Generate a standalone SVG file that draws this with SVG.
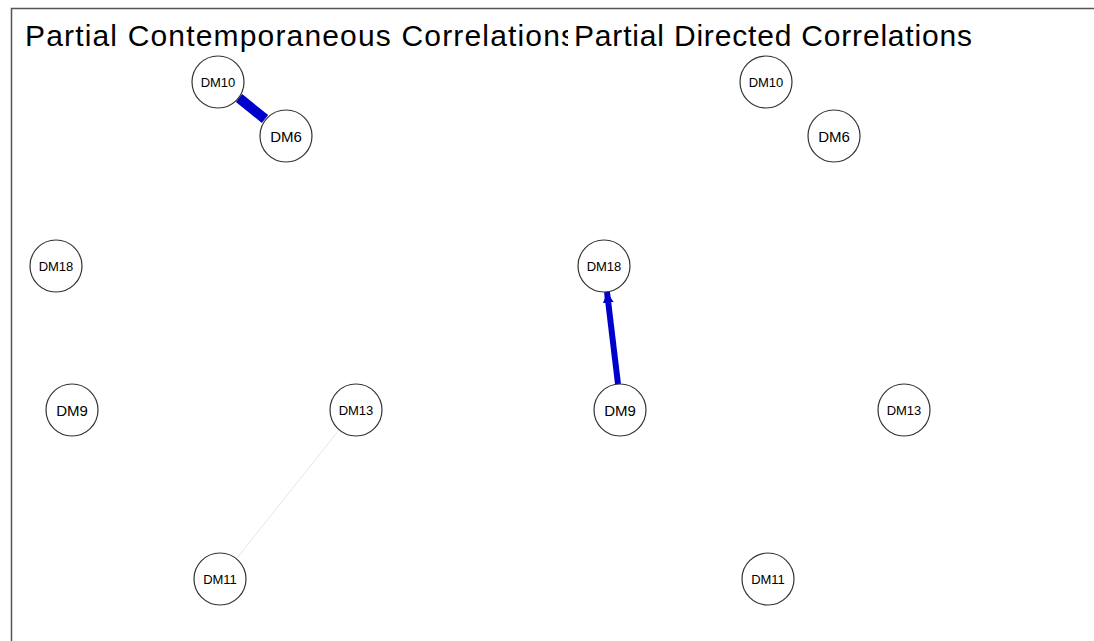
<svg xmlns="http://www.w3.org/2000/svg" width="1094" height="641" viewBox="0 0 1094 641">
<style>
.title{font-family:"Liberation Sans",Arial,sans-serif;font-size:30px;fill:#000}
.node circle{fill:#fff;stroke:#333;stroke-width:1.2}
.node text{font-family:"Liberation Sans",Arial,sans-serif;fill:#000;text-anchor:middle;dominant-baseline:central}
.s{font-size:13px}
.l{font-size:15px}
</style>
<defs>
<clipPath id="leftclip"><rect x="0" y="0" width="568" height="641"/></clipPath>
<marker id="arr" viewBox="0 0 10 10" refX="10" refY="5" markerWidth="1.8" markerHeight="1.8" orient="auto" markerUnits="strokeWidth">
<path d="M0,0 L10,5 L0,10 z" fill="#0000cc"/>
</marker>
</defs>
<rect width="1094" height="641" fill="#fff"/>
<path d="M11.5,641 V8.5 H1094" fill="none" stroke="#555" stroke-width="1.5"/>
<text class="title" x="25" y="46" textLength="551" lengthAdjust="spacing" clip-path="url(#leftclip)">Partial Contemporaneous Correlations</text>
<text class="title" x="574" y="46" textLength="398" lengthAdjust="spacing">Partial Directed Correlations</text>
<g id="connectors">
<line x1="239" y1="98" x2="265" y2="119" stroke="#0000cc" stroke-width="10"/>
<line x1="339" y1="430" x2="237" y2="558" stroke="#e6e6e6" stroke-width="1"/>
<line x1="618" y1="384" x2="607" y2="292" stroke="#0000cc" stroke-width="6" marker-end="url(#arr)"/>
</g>
<g id="DM10" class="node"><circle cx="218" cy="82" r="26"/><text class="s" x="218" y="82">DM10</text></g>
<g id="DM6" class="node"><circle cx="286" cy="136" r="26"/><text class="l" x="286" y="136">DM6</text></g>
<g id="DM18" class="node"><circle cx="56" cy="266" r="26"/><text class="s" x="56" y="266">DM18</text></g>
<g id="DM9" class="node"><circle cx="72" cy="410" r="26"/><text class="l" x="72" y="410">DM9</text></g>
<g id="DM13" class="node"><circle cx="356" cy="410" r="26"/><text class="s" x="356" y="410">DM13</text></g>
<g id="DM11" class="node"><circle cx="220" cy="579" r="26"/><text class="s" x="220" y="579">DM11</text></g>
<g id="DM10b" class="node"><circle cx="766" cy="82" r="26"/><text class="s" x="766" y="82">DM10</text></g>
<g id="DM6b" class="node"><circle cx="834" cy="136" r="26"/><text class="l" x="834" y="136">DM6</text></g>
<g id="DM18b" class="node"><circle cx="604" cy="266" r="26"/><text class="s" x="604" y="266">DM18</text></g>
<g id="DM9b" class="node"><circle cx="620" cy="410" r="26"/><text class="l" x="620" y="410">DM9</text></g>
<g id="DM13b" class="node"><circle cx="904" cy="410" r="26"/><text class="s" x="904" y="410">DM13</text></g>
<g id="DM11b" class="node"><circle cx="768" cy="579" r="26"/><text class="s" x="768" y="579">DM11</text></g>
</svg>
